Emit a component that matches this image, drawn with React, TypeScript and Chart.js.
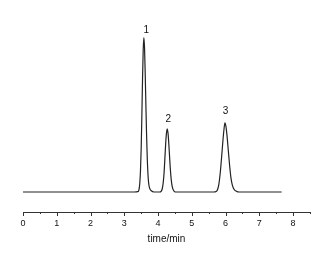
import React, { useEffect, useRef } from "react";
import { Chart, registerables } from "chart.js";

Chart.register(...registerables);

// retention time (min) and detector response (relative units)
const times = [
  0, 1.5, 2.6, 3.3, 3.4, 3.43, 3.46, 3.48, 3.5, 3.52, 3.54, 3.56, 3.58, 3.6, 3.62, 3.64, 3.66, 3.68, 3.7,
  3.72, 3.75, 3.8, 3.88, 4.05, 4.09, 4.12, 4.15, 4.18, 4.21, 4.24, 4.27, 4.3, 4.33, 4.36, 4.39, 4.42,
  4.46, 4.52, 5.65, 5.72, 5.76, 5.8, 5.84, 5.88, 5.92, 5.95, 5.98, 6.01, 6.04, 6.08, 6.12, 6.16, 6.2,
  6.25, 6.32, 6.4, 7.66,
];
const signal = [
  0, 0, 0, 0, 0.2, 1, 6, 14, 28, 49, 73, 92, 100, 93, 76, 56, 37, 22, 12,
  6, 2.5, 0.8, 0, 0, 0.4, 1.8, 5.5, 13, 25, 36, 40.8, 37, 27, 16, 8, 3.5,
  1, 0, 0, 0.3, 1.5, 5, 12, 22, 33, 40, 44.7, 42.5, 37, 27, 17, 9, 4.5,
  1.8, 0.5, 0, 0,
];

const peakLabels = ["1", "2", "3"];
const peakLabelTimes = [3.65, 4.3, 6.0];
const peakLabelValues = [104.9, 46.9, 52.0];

const xMin = 0;
const xMax = 8.5;
const xStep = 0.5;
const yMin = -12.94;
const yMax = 100;
const xTitle = "time/min";

const FONT = "'Liberation Sans', Arial, sans-serif";

const tickPlugin = {
  id: "customTicks",
  afterDraw(chart: any) {
    const ctx = chart.ctx;
    const xs = chart.scales.x;
    const ys = chart.scales.y;
    const yAxis = chart.chartArea.bottom;
    ctx.save();
    ctx.strokeStyle = "#333";
    ctx.lineWidth = 1;
    xs.ticks.forEach((t: any) => {
      const px = Math.round(xs.getPixelForValue(t.value)) + 0.5;
      const major = Math.abs(t.value - Math.round(t.value)) < 1e-6;
      const len = major ? 4 : 2;
      ctx.beginPath();
      ctx.moveTo(px, yAxis);
      ctx.lineTo(px, yAxis + len);
      ctx.stroke();
    });
    ctx.fillStyle = "#111";
    ctx.font = `10px ${FONT}`;
    ctx.textAlign = "center";
    ctx.textBaseline = "middle";
    peakLabels.forEach((lab, i) => {
      ctx.fillText(lab, xs.getPixelForValue(peakLabelTimes[i]), ys.getPixelForValue(peakLabelValues[i]));
    });
    ctx.restore();
  },
};

export default function App() {
  const ref = useRef<HTMLCanvasElement>(null);
  useEffect(() => {
    if (!ref.current) return;
    const chart = new Chart(ref.current, {
      type: "line",
      data: {
        datasets: [
          {
            data: times.map((t, i) => ({ x: t, y: signal[i] })),
            borderColor: "#222",
            borderWidth: 1.2,
            pointRadius: 0,
            tension: 0.4,
            cubicInterpolationMode: "monotone",
            fill: false,
            clip: false,
          } as any,
        ],
      },
      options: {
        responsive: false,
        animation: false,
        layout: { padding: { left: 23, right: 24, top: 37.5, bottom: 0 } },
        plugins: { legend: { display: false }, tooltip: { enabled: false } },
        scales: {
          x: {
            type: "linear",
            min: xMin,
            max: xMax,
            afterFit: (scale: any) => {
              scale.height = 41;
            },
            grid: { display: true, drawOnChartArea: false, drawTicks: true, tickLength: 4, color: "rgba(0,0,0,0)" },
            border: { display: true, color: "#333", width: 1 },
            ticks: {
              stepSize: xStep,
              autoSkip: false,
              maxRotation: 0,
              padding: 2,
              color: "#111",
              font: { family: FONT, size: 9 },
              callback: (v: any) => (Math.abs(v - Math.round(v)) < 1e-6 ? String(Math.round(v)) : ""),
            },
            title: {
              display: true,
              text: xTitle,
              color: "#111",
              font: { family: FONT, size: 10 },
              padding: { top: 0, bottom: 8 },
            },
          },
          y: { display: false, min: yMin, max: yMax },
        },
      },
      plugins: [tickPlugin],
    });
    return () => chart.destroy();
  }, []);
  return (
    <div style={{ position: "fixed", left: 0, top: 0, width: 334, height: 253, background: "#fff" }}>
      <canvas ref={ref} width={334} height={253} />
    </div>
  );
}
